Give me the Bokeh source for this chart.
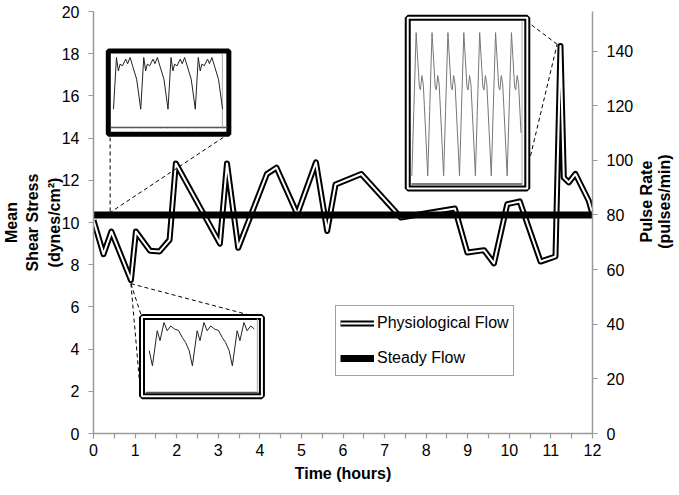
import math
import numpy as np
from bokeh.plotting import figure
from bokeh.layouts import row
from bokeh.models import (Range1d, LinearAxis, Legend, LegendItem, Title,
                          FixedTicker, ColumnDataSource)
from bokeh.core.properties import value
from bokeh.embed import file_html
from bokeh.resources import INLINE

# ---------------- data ----------------
time_h = [0, 0.24, 0.43, 0.90, 1.02, 1.36, 1.59, 1.83, 1.98, 3.04, 3.21, 3.48,
          4.17, 4.40, 4.90, 5.35, 5.62, 5.82, 6.44, 7.39, 8.69, 8.99, 9.39,
          9.63, 9.95, 10.25, 10.75, 11.11, 11.23, 11.31, 11.43, 11.59, 11.91, 12]
shear = [10.1, 8.5, 9.57, 7.27, 9.57, 8.66, 8.63, 9.18, 12.8, 9.0, 12.8, 8.8,
         12.3, 12.6, 10.4, 12.85, 9.6, 11.8, 12.3, 10.24, 10.66, 8.58, 8.69,
         8.06, 10.87, 11.0, 8.15, 8.39, 18.37, 12.13, 11.9, 12.3, 11.03, 10.4]

steady_time = [0, 12]
steady_pulse = [80, 80]

x_ticks = list(range(0, 13))
x_minor_ticks = [i + 0.5 for i in range(12)]
left_ticks = list(range(0, 21, 2))
right_ticks = list(range(0, 141, 20))
pulse_axis_max = 154.5

x_title = "Time (hours)"
left_title = "Mean\nShear Stress\n(dynes/cm²)"
right_title_lines = ["Pulse Rate", "(pulses/min)"]

# inset waveform shapes (one cycle: phase 0..1, level 0..1)
wave1_phase = [0, 0.11, 0.18, 0.24, 0.33, 0.45, 0.52, 0.61, 0.70, 0.85, 0.90, 1.0]
wave1_level = [0, 1.0, 0.74, 0.87, 0.84, 0.97, 0.88, 1.0, 0.84, 0.58, 0.39, 0]
wave2_phase = [0, 0.12, 0.19, 0.29, 0.37, 0.46, 0.55, 0.65, 0.75, 0.83, 0.92, 1.0]
wave2_level = [0, 0.81, 0.58, 1.0, 0.81, 0.92, 0.85, 0.82, 0.65, 0.54, 0.35, 0]
wave3_phase = [0, 0.20, 0.27, 0.36, 0.45, 0.60, 0.73, 0.85, 1.0]
wave3_level = [1.0, 0.62, 0.60, 0.70, 0.64, 0.30, 0.0, 0.45, 1.0]

# inset boxes (data units): left, right, bottom, top
inset1_box = [0.356, 3.255, 14.18, 18.13]
inset2_box = [1.167, 4.050, 1.77, 5.52]
inset3_box = [7.557, 10.432, 11.61, 19.70]
# waveform placement: x at cycle 0, period, first cycle, last cycle, bottom, top
wave1_place = [0.480, 0.656, 0.0, 4.0, 15.37, 17.82]
wave2_place = [1.417, 0.961, -0.17, 2.625, 3.21, 5.26]
wave3_place = [7.759, 0.382, -0.29, 6.67, 12.21, 19.0]
# inner axes of insets: bottom line (x0, x1, y), right line (x, y0, y1)
inset1_axes = [0.416, 3.219, 14.50, 3.099, 14.50, 18.0]
inset2_axes = [1.256, 3.970, 1.94, 3.940, 1.94, 5.44]
inset3_axes = [7.646, 10.310, 11.82, 10.305, 11.82, 19.56]
# dashed connectors: x0, y0, x1, y1
connectors = [
    [0.40, 14.03, 0.40, 10.50],
    [3.12, 14.03, 0.42, 10.50],
    [0.90, 7.10, 1.18, 5.40],
    [0.90, 7.10, 1.10, 2.60],
    [0.90, 7.10, 3.78, 5.60],
    [10.40, 19.56, 11.15, 18.45],
    [10.51, 13.16, 11.15, 18.45],
]

FONT = "Liberation Sans"
AXIS_GRAY = "#9a9a9a"


def tile(phase, level, place):
    x0, per, c0, c1, yb, yt = place
    xs, ys = [], []
    for k in range(int(math.floor(c0)) - 1, int(math.ceil(c1)) + 1):
        for ph, lv in zip(phase, level):
            c = k + ph
            if c0 <= c <= c1:
                xs.append(x0 + c * per)
                ys.append(yb + lv * (yt - yb))
    return xs, ys


# ---------------- main figure ----------------
p = figure(width=636, height=495, x_range=Range1d(0, 12), y_range=Range1d(0, 20),
           output_backend="svg", toolbar_location=None,
           min_border_left=93, min_border_right=44, min_border_top=11,
           min_border_bottom=62)
p.extra_y_ranges = {"pulse": Range1d(0, pulse_axis_max)}
p.grid.visible = False
p.outline_line_color = None
p.background_fill_color = "white"
p.border_fill_color = "white"


def style_axis(ax):
    ax.axis_line_color = AXIS_GRAY
    ax.axis_line_width = 1.5
    ax.major_tick_line_color = AXIS_GRAY
    ax.minor_tick_line_color = AXIS_GRAY
    ax.major_tick_line_width = 1.2
    ax.minor_tick_line_width = 1.2
    ax.major_tick_out = 5
    ax.major_tick_in = 0
    ax.major_label_text_font = FONT
    ax.major_label_text_font_size = "16px"
    ax.major_label_text_color = "black"
    ax.axis_label_text_font = FONT
    ax.axis_label_text_font_size = "16px"
    ax.axis_label_text_font_style = "bold"
    ax.axis_label_text_color = "black"


style_axis(p.xaxis[0])
style_axis(p.yaxis[0])

p.xaxis[0].ticker = FixedTicker(ticks=x_ticks, minor_ticks=x_minor_ticks)
p.xaxis[0].minor_tick_out = 5
p.xaxis[0].minor_tick_in = 0
p.xaxis[0].major_label_standoff = 5

p.yaxis[0].ticker = FixedTicker(ticks=left_ticks)
p.yaxis[0].minor_tick_line_color = None
p.yaxis[0].major_label_standoff = 9
p.yaxis[0].axis_label = left_title
p.yaxis[0].axis_label_standoff = -4
p.yaxis[0].axis_label_text_line_height = 1.25

raxis = LinearAxis(y_range_name="pulse", ticker=FixedTicker(ticks=right_ticks))
style_axis(raxis)
raxis.minor_tick_line_color = None
raxis.major_label_standoff = 9
p.add_layout(raxis, "right")

p.add_layout(Title(text=x_title, align="center", offset=14, standoff=9,
                   text_font=FONT, text_font_size="16px",
                   text_font_style="bold", text_color="black"), "below")

# physiological flow (double line)
src = ColumnDataSource(dict(t=time_h, s=shear))
r_pb = p.line("t", "s", source=src, line_color="black", line_width=6,
              line_join="round")
r_pw = p.line("t", "s", source=src, line_color="white", line_width=2,
              line_join="round")

# steady flow
r_st = p.line(steady_time, steady_pulse, y_range_name="pulse",
              line_color="black", line_width=7)

# connectors
for c in connectors:
    p.line([c[0], c[2]], [c[1], c[3]], line_color="black", line_width=1,
           line_dash="4 3")


# insets
def draw_inset(box, axes, wave_xy, double, wave_color, wave_width):
    l, r, b, t = box
    if double:
        p.quad(left=l, right=r, bottom=b, top=t, fill_color="white",
               line_color="black", line_width=6)
        p.quad(left=l, right=r, bottom=b, top=t, fill_color=None,
               line_color="white", line_width=2)
    else:
        p.quad(left=l, right=r, bottom=b, top=t, fill_color="white",
               line_color="black", line_width=5)
    bx0, bx1, by, rx, ry0, ry1 = axes
    p.line([bx0, bx1], [by, by], line_color="#555555", line_width=1.5)
    p.line([rx, rx], [ry0, ry1], line_color="#aaaaaa", line_width=1)
    xs, ys = wave_xy
    p.line(xs, ys, line_color=wave_color, line_width=wave_width)


draw_inset(inset1_box, inset1_axes, tile(wave1_phase, wave1_level, wave1_place),
           False, "#222222", 1)
p.line([inset1_axes[0], inset1_axes[1]], [inset1_axes[2], inset1_axes[2]],
       line_color="#cc3333", line_width=1.5, line_dash="1 6")
draw_inset(inset2_box, inset2_axes, tile(wave2_phase, wave2_level, wave2_place),
           True, "#222222", 1)
draw_inset(inset3_box, inset3_axes, tile(wave3_phase, wave3_level, wave3_place),
           True, "#777777", 1)

legend = Legend(items=[LegendItem(label="Physiological Flow", renderers=[r_pb, r_pw]),
                       LegendItem(label="Steady Flow", renderers=[r_st])],
                location=(242, 57), glyph_width=34, glyph_height=26,
                label_height=26, label_standoff=3, spacing=9, padding=4,
                margin=0, border_line_color="#404040", border_line_width=1,
                label_text_font=FONT, label_text_font_size="16px",
                label_text_color="black", background_fill_alpha=1.0)
p.add_layout(legend)

# ---------------- right title strip (reads bottom-to-top) ----------------
p2 = figure(width=43, height=495, x_range=Range1d(0, 43), y_range=Range1d(0, 495),
            output_backend="svg", toolbar_location=None, min_border=0,
            x_axis_type=None, y_axis_type=None)
p2.grid.visible = False
p2.outline_line_color = None
p2.border_fill_color = "white"
p2.background_fill_color = "white"
p2.text(x=[10, 28], y=[272, 272], text=right_title_lines, angle=math.pi / 2,
        text_align="center", text_baseline="middle", text_font=value(FONT),
        text_font_style="bold", text_font_size="16px", text_color="black")

layout = row(p, p2, spacing=0)
open("out.html", "w").write(file_html(layout, INLINE))
